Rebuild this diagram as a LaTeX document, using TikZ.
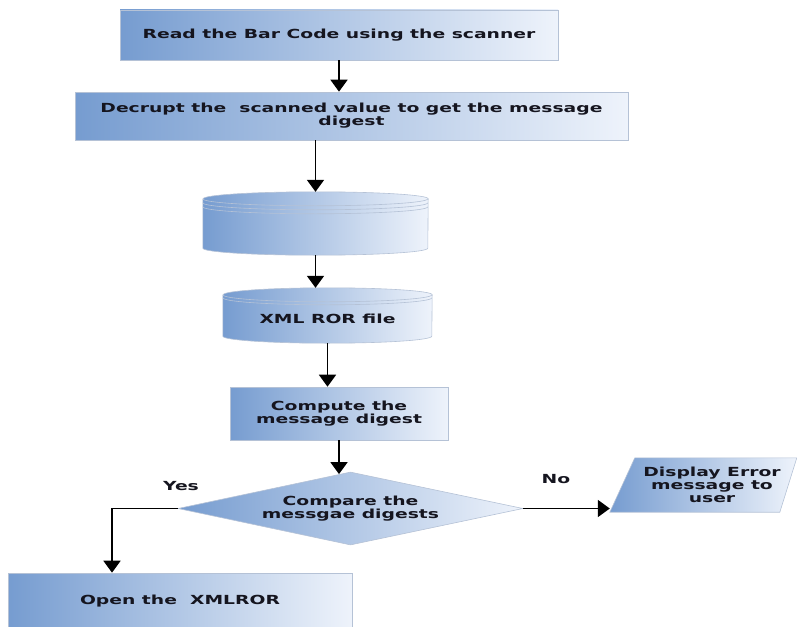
\documentclass[tikz,border=0pt]{standalone}
\usepackage{fontspec}
\setmainfont{DejaVu Sans}[FakeStretch=1.5]
\usetikzlibrary{arrows.meta,shapes.geometric,calc}
\definecolor{shL}{HTML}{769CD0}
\definecolor{shR}{HTML}{EEF3FB}
\definecolor{edge}{HTML}{B5C2D6}
\definecolor{txt}{HTML}{15151F}
\begin{document}
\begin{tikzpicture}[x=1pt,y=-1pt,
  shadebox/.style={left color=shL, right color=shR, draw=edge, line width=0.6pt},
  tfont/.style={font=\bfseries\fontsize{12.5}{13}\selectfont, text=txt},
  flowbox/.style={shadebox, rectangle, inner sep=0pt, align=center, tfont},
  ghost/.style={rectangle, inner sep=0pt, align=center, tfont},
  conn/.style={line width=1.8pt, draw=black, -{Triangle[width=17pt,length=12pt]}},
  lbl/.style={tfont}]
\useasboundingbox (0,0) rectangle (797,626);
% boxes
\node[flowbox, minimum width=438pt, minimum height=50pt] (box1) at (339,35) {Read the Bar Code using the scanner};
\node[flowbox, minimum width=553pt, minimum height=48pt] (box2) at (351.5,116) {Decrupt the \ scanned value to get the message\\digest};
% cylinder 1
\node[ghost, minimum width=225pt, minimum height=63pt] (cyl1) at (315.5,223.5) {};
\path[shadebox] ($(cyl1.north west)+(0,7)$) -- ($(cyl1.south west)+(0,-7)$)
  arc[start angle=180,end angle=360,x radius=112.5pt,y radius=7pt]
  -- ($(cyl1.north east)+(0,7)$)
  arc[start angle=0,end angle=180,x radius=112.5pt,y radius=7pt] -- cycle;
\draw[edge, line width=0.6pt] ($(cyl1.north west)+(0,7)$) arc[start angle=180,end angle=360,x radius=112.5pt,y radius=7pt];
\draw[edge, line width=0.6pt] ($(cyl1.north west)+(0,11)$) arc[start angle=180,end angle=360,x radius=112.5pt,y radius=7pt];
\draw[edge, line width=0.6pt] ($(cyl1.north west)+(0,15)$) arc[start angle=180,end angle=360,x radius=112.5pt,y radius=7pt];
% cylinder 2
\node[ghost, minimum width=209pt, minimum height=55pt] (cyl2) at (327.5,315.5) {};
\path[shadebox] ($(cyl2.north west)+(0,7)$) -- ($(cyl2.south west)+(0,-7)$)
  arc[start angle=180,end angle=360,x radius=104.5pt,y radius=7pt]
  -- ($(cyl2.north east)+(0,7)$)
  arc[start angle=0,end angle=180,x radius=104.5pt,y radius=7pt] -- cycle;
\draw[edge, line width=0.6pt] ($(cyl2.north west)+(0,7)$) arc[start angle=180,end angle=360,x radius=104.5pt,y radius=7pt];
\draw[edge, line width=0.6pt] ($(cyl2.north west)+(0,10)$) arc[start angle=180,end angle=360,x radius=104.5pt,y radius=7pt];
\node[ghost] (cyl2t) at ($(cyl2.center)+(0,3)$) {XML ROR file};
% compute
\node[flowbox, minimum width=218pt, minimum height=53pt] (box3) at (339,413.5) {Compute the\\message digest};
% diamond
\node[shadebox, diamond, aspect=4.7, inner sep=0pt, minimum width=345pt, minimum height=73pt, align=center, tfont] (dia) at (350.5,508.5) {Compare the\\messgae digests};
% parallelogram
\node[ghost, minimum width=204pt, minimum height=54pt] (err) at (712,485) {};
\path[shadebox] (err.south west) -- ($(err.north west)+(25,0)$) -- ($(err.north west)+(187,0)$) -- ($(err.south west)+(170,0)$) -- cycle;
\node[ghost] (errt) at (err.center) {Display Error\\message to\\user};
% open
\node[flowbox, minimum width=344pt, minimum height=57pt] (open) at (180,601.5) {Open the \ XMLROR};
% connectors
\draw[conn] (box1.south) -- (box1.south |- box2.north);
\draw[conn] (cyl1.north |- box2.south) -- (cyl1.north);
\draw[conn] (cyl1.south) -- (cyl1.south |- cyl2.north);
\draw[conn] (cyl2.south) -- (cyl2.south |- box3.north);
\draw[conn] (box3.south) -- ($(box3.south |- dia.north)+(0,2.4)$);
\coordinate (yc) at (112,508.5);
\draw[conn] (dia.west) -- (yc) -- (yc |- open.north);
\draw[conn] (dia.east) -- (dia.east -| err.west);
\node[lbl] (yes) at (181,486) {Yes};
\node[lbl] (no) at (556,479) {No};
\end{tikzpicture}
\end{document}
